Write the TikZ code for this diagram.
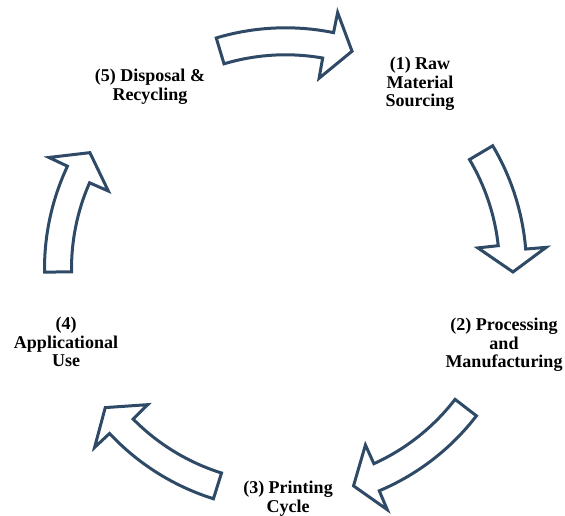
\documentclass[tikz,border=0pt]{standalone}
\usepackage{fontspec}
\setmainfont{Liberation Serif}
\definecolor{arrowline}{HTML}{2E4A66}
\newcommand\cycarrow[2]{%
  \pgfmathsetmacro\myHbo{#2+5.5}%
  \pgfmathsetmacro\myHbi{#2+7}%
  \draw[blockarrow] ([shift={(#1:241pt)}]C)
    arc[start angle=#1, end angle=\myHbo, radius=241pt]
    -- ([shift={(\myHbo:261.5pt)}]C)
    -- ([shift={(#2:227.5pt)}]C)
    -- ([shift={(\myHbi:193.5pt)}]C)
    -- ([shift={(\myHbi:214pt)}]C)
    arc[start angle=\myHbi, end angle=#1, radius=214pt]
    -- cycle;}
\begin{document}
\begin{tikzpicture}[x=1pt,y=1pt,
  blockarrow/.style={draw=arrowline, fill=white, line width=3pt, line join=miter},
  lbl/.style={align=center, inner sep=0pt, anchor=base,
    font=\fontsize{18pt}{18.5pt}\selectfont\bfseries}]
\useasboundingbox (0,0) rectangle (565,516);
\coordinate (C) at (285.5,247.2);
\cycarrow{106.7}{73}
\cycarrow{30.7}{-0.8}
\cycarrow{-37.6}{-72.6}
\cycarrow{-107.4}{-142.4}
\cycarrow{180.8}{149.3}
\node[lbl] (l1) at (420,409) {(1) Raw\\Material\\Sourcing};
\node[lbl] (l2) at (504,148) {(2) Processing\\and\\Manufacturing};
\node[lbl] (l3) at (288,3.5) {(3) Printing\\Cycle};
\node[lbl] (l4) at (66,149) {(4)\\Applicational\\Use};
\node[lbl] (l5) at (150,415.5) {(5) Disposal \&\\Recycling};
\end{tikzpicture}
\end{document}
